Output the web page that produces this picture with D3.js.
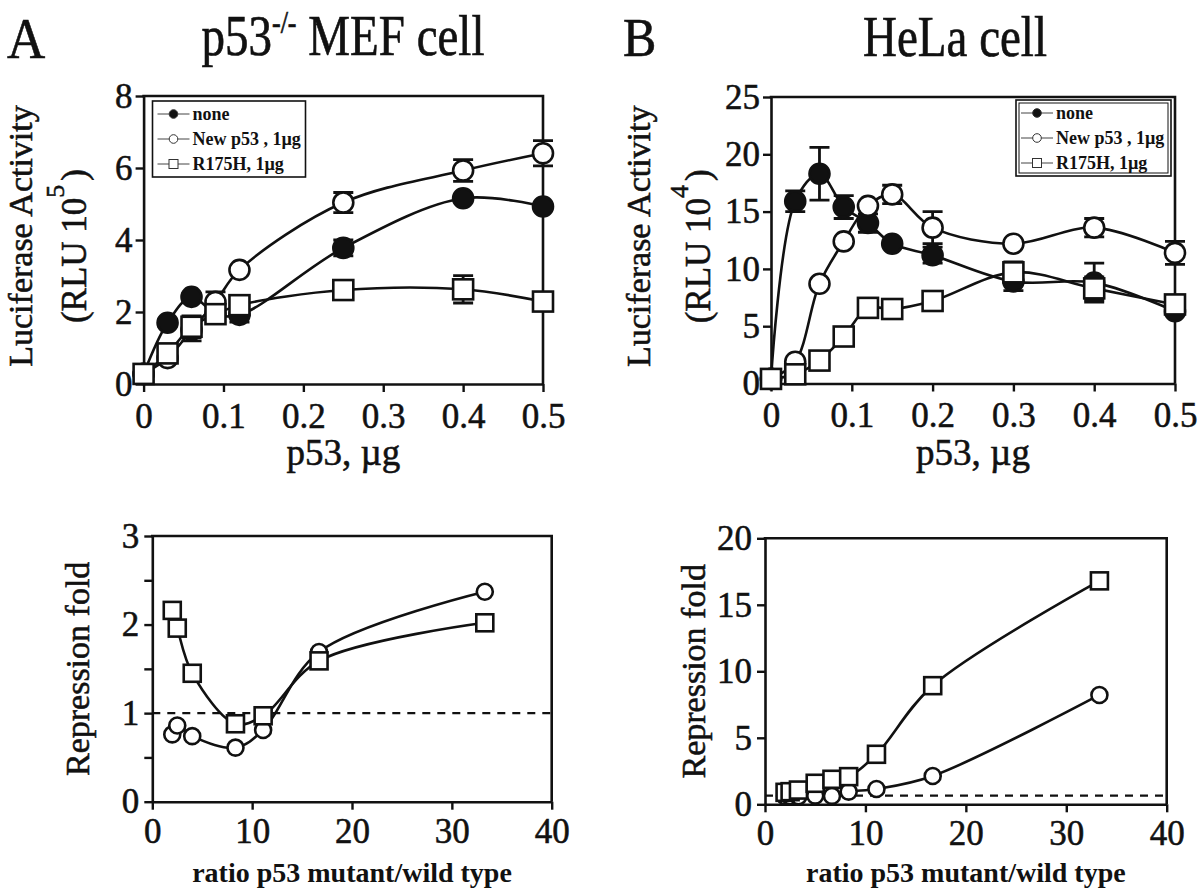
<!DOCTYPE html>
<html><head><meta charset="utf-8">
<script src="https://cdn.jsdelivr.net/npm/d3@7"></script>
<style>
body{margin:0;background:#fff}
svg{display:block}
text{font-family:"Liberation Serif","Times New Roman",serif;fill:#111}
.heavy{stroke:#111;stroke-width:0.55px}
</style>
</head><body><svg id="c" width="1200" height="891"></svg>
<script>
// ---------- DATA ----------
const doseA = [0, 0.03, 0.06, 0.09, 0.12, 0.25, 0.4, 0.5];
const noneA = [0.28, 1.70, 2.42, 1.95, 1.92, 3.78, 5.16, 4.93];
const noneAErr = [0, 0.1, 0.1, 0, 0.2, 0.22, 0.1, 0.1];
const newA = [0.28, 0.72, 1.50, 2.28, 3.17, 5.04, 5.93, 6.41];
const newAErr = [0, 0, 0.3, 0.28, 0, 0.28, 0.3, 0.35];
const mutA = [0.28, 0.85, 1.59, 1.94, 2.19, 2.61, 2.63, 2.29];
const mutAErr = [0, 0, 0.3, 0, 0, 0, 0.38, 0];

const doseB = [0, 0.03, 0.06, 0.09, 0.12, 0.15, 0.2, 0.3, 0.4, 0.5];
const noneB = [0.4, 15.9, 18.3, 15.4, 14.0, 12.2, 11.2, 8.9, 8.8, 6.3];
const noneBErr = [0, 0.9, 2.3, 1.0, 0.8, 0, 0.7, 0.8, 1.7, 0];
const newB = [0.4, 1.9, 8.7, 12.4, 15.5, 16.5, 13.6, 12.2, 13.6, 11.4];
const newBErr = [0, 0, 0, 0, 0, 0.8, 1.4, 0, 0.8, 1.0];
const mutB = [0.4, 0.8, 2.0, 4.1, 6.6, 6.5, 7.2, 9.7, 8.3, 6.9];
const mutBErr = [0, 0, 0, 0.4, 0, 0.5, 0, 0.9, 1.0, 0];

const ratioA = [2, 2.5, 4, 8.33, 11.1, 16.7, 33.3];
const foldNewA = [0.76, 0.86, 0.74, 0.61, 0.81, 1.69, 2.37];
const foldMutA = [2.16, 1.96, 1.45, 0.88, 0.97, 1.59, 2.02];
const refLineA = 1;

const ratioB = [2, 2.5, 3.33, 5, 6.67, 8.33, 11.1, 16.7, 33.3];
const foldNewB = [0.6, 0.6, 0.6, 0.65, 0.63, 0.95, 1.15, 2.13, 8.22];
const foldMutB = [0.9, 0.95, 1.07, 1.58, 1.88, 2.08, 3.76, 8.92, 16.8];
const refLineB = 0.65;

const doseTicks = [0, 0.1, 0.2, 0.3, 0.4, 0.5];
const yTicksTopA = [0, 2, 4, 6, 8];
const yTicksTopB = [0, 5, 10, 15, 20, 25];
const ratioTicks = [0, 10, 20, 30, 40];
const yTicksBotA = [0, 0.5, 1, 1.5, 2, 2.5, 3];
const yTicksBotB = [0, 5, 10, 15, 20];
const legendLabels = ["none", "New p53 , 1\u00b5g", "R175H, 1\u00b5g"];

// ---------- DRAW ----------
const svg = d3.select("#c");
const INK = "#111";
const lineGen = (x, y) => d3.line().x(d => x(d[0])).y(d => y(d[1])).curve(d3.curveCatmullRom.alpha(0.5));

function frame(g, x, y, xTicks, yTicks, xFmt, yFmt, xPad, yPad) {
  const [x0, x1] = x.range(), [y0, y1] = y.range();
  const ax = g.append("g").attr("transform", `translate(0,${y0})`)
    .call(d3.axisBottom(x).tickValues(xTicks).tickSize(8).tickSizeOuter(0).tickPadding(xPad).tickFormat(xFmt));
  const ay = g.append("g").attr("transform", `translate(${x0},0)`)
    .call(d3.axisLeft(y).tickValues(yTicks).tickSize(8).tickSizeOuter(0).tickPadding(yPad).tickFormat(yFmt));
  [ax, ay].forEach(a => {
    a.select(".domain").attr("stroke", INK).attr("stroke-width", 2.6);
    a.selectAll(".tick line").attr("stroke", INK).attr("stroke-width", 2.4);
    a.selectAll(".tick text").attr("font-size", 35).attr("fill", INK).attr("class", "heavy")
      .attr("font-family", '"Liberation Serif","Times New Roman",serif');
  });
  g.append("path").attr("d", `M${x0 - 1.3},${y1}H${x1}V${y0}`)
    .attr("fill", "none").attr("stroke", INK).attr("stroke-width", 2.6);
}

function curve(g, x, y, xs, ys) {
  const pts = xs.map((d, i) => [d, ys[i]]);
  g.append("path").datum(pts).attr("d", lineGen(x, y))
    .attr("fill", "none").attr("stroke", INK).attr("stroke-width", 2.6);
}

function errs(g, x, y, xs, ys, es, cap) {
  xs.forEach((d, i) => {
    if (!es[i]) return;
    const cx = x(d), t = y(ys[i] + es[i]), b = y(ys[i] - es[i]);
    g.append("path").attr("d", `M${cx},${t}V${b}M${cx - cap},${t}H${cx + cap}M${cx - cap},${b}H${cx + cap}`)
      .attr("fill", "none").attr("stroke", INK).attr("stroke-width", 2.8);
  });
}

function marks(g, x, y, xs, ys, type, size) {
  xs.forEach((d, i) => {
    const cx = x(d), cy = y(ys[i]);
    if (type === "square") {
      g.append("rect").attr("x", cx - size).attr("y", cy - size).attr("width", 2 * size).attr("height", 2 * size)
        .attr("fill", "#fff").attr("stroke", INK).attr("stroke-width", 2.6);
    } else {
      g.append("circle").attr("cx", cx).attr("cy", cy).attr("r", size)
        .attr("fill", type === "filled" ? INK : "#fff").attr("stroke", INK).attr("stroke-width", 2.6);
    }
  });
}

function legend(g, x0, y0, w, h, double) {
  g.append("rect").attr("x", x0).attr("y", y0).attr("width", w).attr("height", h)
    .attr("fill", "#fff").attr("stroke", INK).attr("stroke-width", 1.6);
  if (double) g.append("rect").attr("x", x0 + 3).attr("y", y0 + 3).attr("width", w - 6).attr("height", h - 6)
    .attr("fill", "none").attr("stroke", INK).attr("stroke-width", 1);
  const types = ["filled", "open", "square"];
  legendLabels.forEach((lab, i) => {
    const yy = y0 + 13 + i * 25;
    g.append("line").attr("x1", x0 + 5).attr("x2", x0 + 37).attr("y1", yy).attr("y2", yy)
      .attr("stroke", "#444").attr("stroke-width", 1);
    const cx = x0 + 21;
    if (types[i] === "square") g.append("rect").attr("x", cx - 4.5).attr("y", yy - 4.5).attr("width", 9).attr("height", 9)
      .attr("fill", "#fff").attr("stroke", "#333").attr("stroke-width", 1);
    else g.append("circle").attr("cx", cx).attr("cy", yy).attr("r", 4.3)
      .attr("fill", types[i] === "filled" ? INK : "#fff").attr("stroke", "#333").attr("stroke-width", 1);
    g.append("text").attr("x", x0 + 40).attr("y", yy + 6).attr("font-size", 18).attr("font-weight", "bold").text(lab);
  });
}

function topPanel(cfg) {
  const g = svg.append("g");
  const x = d3.scaleLinear().domain([0, 0.5]).range([cfg.left, cfg.right]);
  const y = d3.scaleLinear().domain([0, cfg.ymax]).range([cfg.bottom, cfg.top]);
  frame(g, x, y, doseTicks, cfg.yTicks, d => d === 0 ? "0" : d3.format(".1f")(d), d3.format("d"), 11, 3);
  curve(g, x, y, cfg.dose, cfg.none);
  curve(g, x, y, cfg.dose, cfg.nw);
  curve(g, x, y, cfg.dose, cfg.mut);
  errs(g, x, y, cfg.dose, cfg.none, cfg.noneErr, 10);
  marks(g, x, y, cfg.dose, cfg.none, "filled", 10);
  errs(g, x, y, cfg.dose, cfg.nw, cfg.nwErr, 10);
  marks(g, x, y, cfg.dose, cfg.nw, "open", 10);
  errs(g, x, y, cfg.dose, cfg.mut, cfg.mutErr, 10);
  marks(g, x, y, cfg.dose, cfg.mut, "square", 10);
  legend(g, cfg.legX, cfg.legY, cfg.legW, 76, cfg.legDouble);
  const mid = (cfg.top + cfg.bottom) / 2;
  g.append("text").attr("class", "heavy").attr("transform", `translate(${cfg.lab1X},${mid - 4}) rotate(-90)`)
    .attr("text-anchor", "middle").attr("font-size", 34).text("Luciferase Activity");
  const t2 = g.append("text").attr("class", "heavy").attr("transform", `translate(${cfg.lab2X},${mid + 6}) rotate(-90)`)
    .attr("text-anchor", "middle").attr("font-size", 35);
  t2.append("tspan").text("(RLU 10");
  t2.append("tspan").attr("dy", -22).attr("font-size", 26).text(cfg.exp);
  t2.append("tspan").attr("dy", 22).attr("dx", 4).text(")");
  g.append("text").attr("class", "heavy").attr("x", (cfg.left + cfg.right) / 2).attr("y", 465).attr("text-anchor", "middle")
    .attr("font-size", 37).text("p53, \u00b5g");
}

function bottomPanel(cfg) {
  const g = svg.append("g");
  const x = d3.scaleLinear().domain([0, 40]).range([cfg.left, cfg.right]);
  const y = d3.scaleLinear().domain([0, cfg.ymax]).range([cfg.bottom, cfg.top]);
  frame(g, x, y, ratioTicks, cfg.yTicks, d3.format("d"), d => Number.isInteger(d) ? d : "", 8, 5);
  g.append("line").attr("x1", x(0)).attr("x2", x(40)).attr("y1", y(cfg.ref)).attr("y2", y(cfg.ref))
    .attr("stroke", INK).attr("stroke-width", 2.4).attr("stroke-dasharray", "8,7");
  curve(g, x, y, cfg.ratio, cfg.nw);
  curve(g, x, y, cfg.ratio, cfg.mut);
  marks(g, x, y, cfg.ratio, cfg.nw, "open", 8);
  marks(g, x, y, cfg.ratio, cfg.mut, "square", 8.5);
  const mid = (cfg.top + cfg.bottom) / 2;
  g.append("text").attr("class", "heavy").attr("transform", `translate(${cfg.labX},${mid}) rotate(-90)`)
    .attr("text-anchor", "middle").attr("font-size", 34).text("Repression fold");
  g.append("text").attr("x", (cfg.left + cfg.right) / 2).attr("y", 882).attr("text-anchor", "middle")
    .attr("font-size", 28).attr("font-weight", "bold").text("ratio p53 mutant/wild type");
}

topPanel({left: 143.6, right: 543, top: 96, bottom: 384, ymax: 8, yTicks: yTicksTopA,
  dose: doseA, none: noneA, noneErr: noneAErr, nw: newA, nwErr: newAErr, mut: mutA, mutErr: mutAErr,
  legX: 152.5, legY: 101, legW: 153, legDouble: false, lab1X: 32, lab2X: 86, exp: "5"});
topPanel({left: 771, right: 1175, top: 97, bottom: 383.5, ymax: 25, yTicks: yTicksTopB,
  dose: doseB, none: noneB, noneErr: noneBErr, nw: newB, nwErr: newBErr, mut: mutB, mutErr: mutBErr,
  legX: 1016, legY: 100, legW: 155, legDouble: true, lab1X: 650, lab2X: 710, exp: "4"});
bottomPanel({left: 152.3, right: 551.7, top: 536, bottom: 801.7, ymax: 3, yTicks: yTicksBotA,
  ratio: ratioA, nw: foldNewA, mut: foldMutA, ref: refLineA, labX: 89});
bottomPanel({left: 765, right: 1166.7, top: 538.3, bottom: 804.3, ymax: 20, yTicks: yTicksBotB,
  ratio: ratioB, nw: foldNewB, mut: foldMutB, ref: refLineB, labX: 705});

// titles
function stretched(x, y, sy) {
  return svg.append("g").attr("transform", `translate(${x},${y}) scale(1,${sy})`);
}
stretched(7, 58, 1.08).append("text").attr("class", "heavy").attr("font-size", 53).text("A");
stretched(623, 56, 1.08).append("text").attr("class", "heavy").attr("font-size", 50).text("B");
const tA = stretched(343, 55, 1.2).append("text").attr("class", "heavy").attr("text-anchor", "middle").attr("font-size", 47);
tA.append("tspan").text("p53");
tA.append("tspan").attr("dy", -18).attr("font-size", 26).text("-/-");
tA.append("tspan").attr("dy", 18).text(" MEF cell");
stretched(955, 56, 1.2).append("text").attr("class", "heavy").attr("text-anchor", "middle").attr("font-size", 47).text("HeLa cell");
</script>
</body></html>
